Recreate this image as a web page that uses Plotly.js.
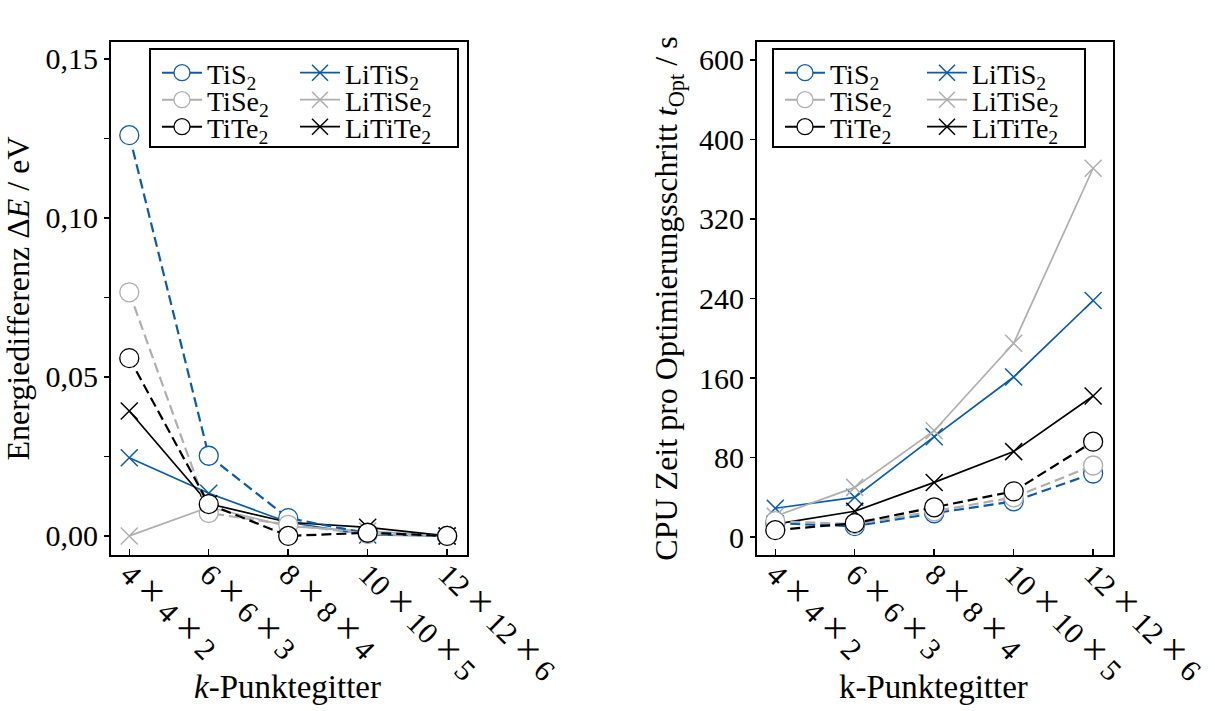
<!DOCTYPE html>
<html>
<head>
<meta charset="utf-8">
<script src="https://cdn.plot.ly/plotly-3.0.1.min.js"></script>
<style>html,body{margin:0;padding:0;background:#fff;}#chart{width:1215px;height:711px;}</style>
</head>
<body>
<div id="chart"></div>
<script>
// k-point grids (categories)
const categories = ['4x4x2', '6x6x3', '8x8x4', '10x10x5', '12x12x6'];
const tickLabels = ['4 × 4 × 2', '6 × 6 × 3', '8 × 8 × 4', '10 × 10 × 5', '12 × 12 × 6'];

// Left: energy difference / eV
const E_TiS2    = [0.1260, 0.0252, 0.0056, 0.0008, 0.0000];
const E_TiSe2   = [0.0766, 0.0072, 0.0035, 0.0006, 0.0000];
const E_TiTe2   = [0.0559, 0.0100, 0.0000, 0.0010, 0.0000];
const E_LiTiS2  = [0.0246, 0.0134, 0.0043, 0.0003, 0.0000];
const E_LiTiSe2 = [0.0000, 0.0090, 0.0030, 0.0015, 0.0000];
const E_LiTiTe2 = [0.0393, 0.0101, 0.0043, 0.0027, 0.0000];

// Right: CPU time per optimisation step / s (axis position units)
const t_TiS2    = [14, 11, 24, 36, 64];
const t_TiSe2   = [16, 13, 26, 40, 72];
const t_TiTe2   = [7, 14, 30, 46, 96];
const t_LiTiS2  = [29, 40, 101, 161, 238];
const t_LiTiSe2 = [21, 50, 107, 195, 371];
const t_LiTiTe2 = [13, 26, 55, 86, 142];

// Y tick labels
const leftTickVals  = [0, 0.05, 0.10, 0.15];
const leftTickText  = ['0,00', '0,05', '0,10', '0,15'];
const rightTickVals = [0, 80, 160, 240, 320, 400, 480];
const rightTickText = ['0', '80', '160', '240', '320', '400', '600'];

const names = {
  TiS2: 'TiS<sub>2</sub>', TiSe2: 'TiSe<sub>2</sub>', TiTe2: 'TiTe<sub>2</sub>',
  LiTiS2: 'LiTiS<sub>2</sub>', LiTiSe2: 'LiTiSe<sub>2</sub>', LiTiTe2: 'LiTiTe<sub>2</sub>'
};
const BLUE = '#0a5ca8', GRAY = '#aeaeae', BLACK = '#000000';

const circMarker = c => ({symbol: 'circle', size: 19, color: '#ffffff', line: {color: c, width: 1.3}});

function circ(name, y, color, xa, ya) {
  return {type: 'scatter', mode: 'lines+markers', name: name, x: categories, y: y,
    xaxis: xa, yaxis: ya, showlegend: false,
    line: {color: color, width: 2.2, dash: '10px,5px'}, marker: circMarker(color)};
}
// legend-only entry (solid sample line like the reference legend)
function circLegend(name, color, xa, ya, leg) {
  return {type: 'scatter', mode: 'lines+markers', name: name, x: [null], y: [null],
    xaxis: xa, yaxis: ya, legend: leg, showlegend: true,
    line: {color: color, width: 2}, marker: circMarker(color)};
}
function cross(name, y, color, xa, ya, leg) {
  return {type: 'scatter', mode: 'lines+markers', name: name, x: categories, y: y,
    xaxis: xa, yaxis: ya, legend: leg,
    line: {color: color, width: 1.7},
    marker: {symbol: 'x-thin', size: 17, color: color, line: {color: color, width: 1.5}}};
}

const data = [
  cross(names.LiTiS2, E_LiTiS2, BLUE, 'x', 'y', 'legend4'),
  cross(names.LiTiSe2, E_LiTiSe2, GRAY, 'x', 'y', 'legend5'),
  cross(names.LiTiTe2, E_LiTiTe2, BLACK, 'x', 'y', 'legend6'),
  circ(names.TiS2, E_TiS2, BLUE, 'x', 'y'),
  circ(names.TiSe2, E_TiSe2, GRAY, 'x', 'y'),
  circ(names.TiTe2, E_TiTe2, BLACK, 'x', 'y'),
  circLegend(names.TiS2, BLUE, 'x', 'y', 'legend'),
  circLegend(names.TiSe2, GRAY, 'x', 'y', 'legend2'),
  circLegend(names.TiTe2, BLACK, 'x', 'y', 'legend3'),
  cross(names.LiTiS2, t_LiTiS2, BLUE, 'x2', 'y2', 'legend10'),
  cross(names.LiTiSe2, t_LiTiSe2, GRAY, 'x2', 'y2', 'legend11'),
  cross(names.LiTiTe2, t_LiTiTe2, BLACK, 'x2', 'y2', 'legend12'),
  circ(names.TiS2, t_TiS2, BLUE, 'x2', 'y2'),
  circ(names.TiSe2, t_TiSe2, GRAY, 'x2', 'y2'),
  circ(names.TiTe2, t_TiTe2, BLACK, 'x2', 'y2'),
  circLegend(names.TiS2, BLUE, 'x2', 'y2', 'legend7'),
  circLegend(names.TiSe2, GRAY, 'x2', 'y2', 'legend8'),
  circLegend(names.TiTe2, BLACK, 'x2', 'y2', 'legend9')
];

const W = 1215, H = 711;
const FONT = "'Liberation Serif', 'DejaVu Serif', serif";
const px = v => v / W, py = v => 1 - v / H;

const tickText = tickLabels.map(s => s.replace(/×/g, '<span style="font-size:40px">×</span>'));

function xax(domain, anchor) {
  return {domain: domain, anchor: anchor, type: 'category', range: [-0.23, 4.25],
    tickmode: 'array', tickvals: categories, ticktext: tickText,
    tickangle: 45, ticks: 'inside', ticklen: 6, tickwidth: 1.5, tickcolor: '#000',
    ticklabelstandoff: -12,
    showline: true, mirror: true, linewidth: 2, linecolor: '#000',
    showgrid: false, zeroline: false, tickfont: {family: FONT, size: 30, color: '#000'}};
}
function yax(domain, anchor, range, tv, tt, title, standoff, minorDtick) {
  const a = {domain: domain, anchor: anchor, range: range, tickmode: 'array', tickvals: tv, ticktext: tt,
    ticks: 'outside', ticklen: 5, tickwidth: 1.5, tickcolor: '#000',
    showline: true, mirror: true, linewidth: 2, linecolor: '#000',
    showgrid: false, zeroline: false, tickfont: {family: FONT, size: 30, color: '#000'},
    title: {text: title, standoff: standoff, font: {family: FONT, size: 32, color: '#000'}}};
  if (minorDtick) a.minor = {dtick: minorDtick, tick0: 0, ticks: 'outside', ticklen: 5, tickwidth: 1.5, tickcolor: '#000', showgrid: false};
  return a;
}

const rows = [73, 100, 127];
function leg(xp, yp) {
  return {x: px(xp), y: py(yp), xref: 'paper', yref: 'paper', xanchor: 'left', yanchor: 'middle',
    bgcolor: 'rgba(0,0,0,0)', borderwidth: 0, itemwidth: 40,
    font: {family: FONT, size: 28, color: '#000'}};
}

const layout = {
  width: W, height: H, margin: {l: 0, r: 0, t: 0, b: 0},
  paper_bgcolor: '#fff', plot_bgcolor: '#fff',
  font: {family: FONT, size: 28, color: '#000'},
  showlegend: true,
  xaxis: xax([px(111), px(467)], 'y'),
  yaxis: yax([1 - 555 / H, 1 - 42 / H], 'x', [-0.006, 0.1553], leftTickVals, leftTickText,
    'Energiedifferenz Δ<i>E</i> / eV', 6, 0.025),
  xaxis2: xax([px(757), px(1113)], 'y2'),
  yaxis2: yax([1 - 555 / H, 1 - 42 / H], 'x2', [-18, 498], rightTickVals, rightTickText,
    'CPU Zeit pro Optimierungsschritt <i>t</i><sub>Opt</sub> / s', 12, null),
  legend: leg(157, rows[0]), legend2: leg(157, rows[1]), legend3: leg(157, rows[2]),
  legend4: leg(295, rows[0]), legend5: leg(295, rows[1]), legend6: leg(295, rows[2]),
  legend7: leg(780, rows[0]), legend8: leg(780, rows[1]), legend9: leg(780, rows[2]),
  legend10: leg(922, rows[0]), legend11: leg(922, rows[1]), legend12: leg(922, rows[2]),
  shapes: [
    {type: 'rect', xref: 'paper', yref: 'paper', x0: px(150), x1: px(458), y0: py(147), y1: py(49),
      line: {color: '#000', width: 2}, fillcolor: 'rgba(0,0,0,0)'},
    {type: 'rect', xref: 'paper', yref: 'paper', x0: px(773), x1: px(1085), y0: py(147), y1: py(49),
      line: {color: '#000', width: 2}, fillcolor: 'rgba(0,0,0,0)'}
  ],
  annotations: [
    {text: '<i>k</i>-Punktegitter', xref: 'paper', yref: 'paper', x: px(287), y: py(687),
      xanchor: 'center', yanchor: 'middle', showarrow: false, font: {family: FONT, size: 33, color: '#000'}},
    {text: 'k-Punktegitter', xref: 'paper', yref: 'paper', x: px(933), y: py(687),
      xanchor: 'center', yanchor: 'middle', showarrow: false, font: {family: FONT, size: 33, color: '#000'}}
  ]
};

Plotly.newPlot('chart', data, layout, {displayModeBar: false, staticPlot: true});
</script>
</body>
</html>
